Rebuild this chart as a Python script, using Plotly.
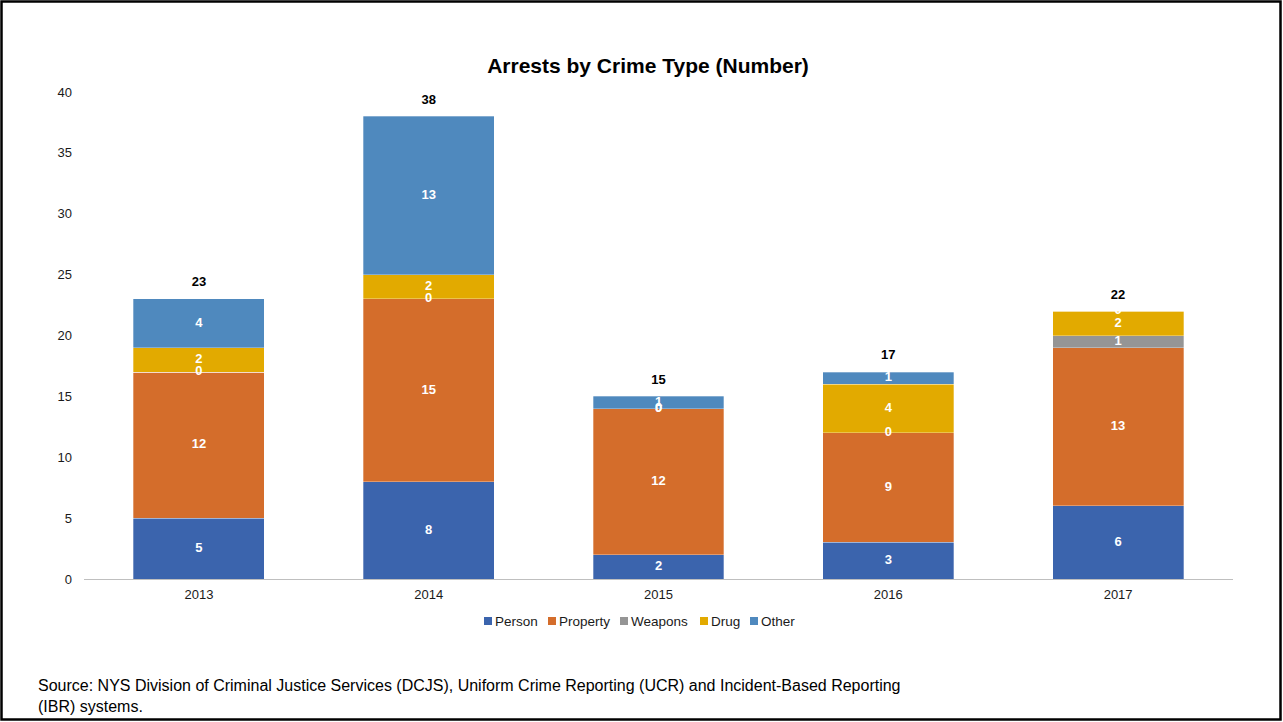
import plotly.graph_objects as go

years = ["2013", "2014", "2015", "2016", "2017"]
series_names = ["Person", "Property", "Weapons", "Drug", "Other"]
person = [5, 8, 2, 3, 6]
prop = [12, 15, 12, 9, 13]
weapons = [0, 0, 0, 0, 1]
drug = [2, 2, 0, 4, 2]
other = [4, 13, 1, 1, 0]
colors = ["#3B64AD", "#D46D2B", "#959595", "#E2AA00", "#4F89BE"]

series = [person, prop, weapons, drug, other]

W, H = 1283, 722
L, R, T, B = 84, 50, 92, 143
pw, ph = W - L - R, H - T - B
FONT = "Liberation Sans, Arial"

def px_x(x):
    return (x - L) / pw

def px_y(y):
    return (H - B - y) / ph

fig = go.Figure()
for name, vals, col in zip(series_names, series, colors):
    fig.add_trace(go.Bar(
        x=years, y=vals, name=name, showlegend=False,
        marker=dict(color=col, line=dict(color="rgba(255,255,255,0.5)", width=0.6)),
        hoverinfo="skip"))

# segment labels (including zero segments)
base = [0] * len(years)
lx, ly, lt = [], [], []
for vals in series:
    for i, v in enumerate(vals):
        lx.append(years[i])
        ly.append(base[i] + v / 2)
        lt.append(f"<b>{v}</b>")
        base[i] += v
fig.add_trace(go.Scatter(x=lx, y=ly, text=lt, mode="text", textposition="middle center",
                         textfont=dict(color="white", size=13, family=FONT),
                         showlegend=False, hoverinfo="skip"))
totals = base
fig.add_trace(go.Scatter(x=years, y=[t + 1.3 for t in totals], text=[f"<b>{t}</b>" for t in totals],
                         mode="text", textposition="middle center",
                         textfont=dict(color="black", size=13, family=FONT),
                         showlegend=False, hoverinfo="skip"))

fig.update_layout(
    width=W, height=H, barmode="stack", bargap=0.43,
    margin=dict(l=L, r=R, t=T, b=B),
    paper_bgcolor="white", plot_bgcolor="white",
    font=dict(family=FONT, size=13, color="#1a1a1a"),
    showlegend=False,
    title=dict(text="<b>Arrests by Crime Type (Number)</b>", x=px_x(648), xref="paper",
               xanchor="center", y=1 - 66 / H, yanchor="middle",
               font=dict(size=21, color="black")),
    xaxis=dict(showgrid=False, showline=True, linecolor="#BFBFBF", linewidth=1, ticks="",
               tickfont=dict(size=13), ticklabelstandoff=3),
    yaxis=dict(range=[0, 40], dtick=5, showgrid=False, showline=False, zeroline=False, ticks="",
               tickfont=dict(size=13), ticklabelstandoff=11),
)

# custom compact legend
legend_x = [484, 548, 620, 700, 750]
for name, col, lxp in zip(series_names, colors, legend_x):
    fig.add_shape(type="rect", xref="paper", yref="paper",
                  x0=px_x(lxp), x1=px_x(lxp + 8), y0=px_y(625), y1=px_y(617),
                  fillcolor=col, line=dict(width=0))
    fig.add_annotation(xref="paper", yref="paper", x=px_x(lxp + 9), y=px_y(621),
                       xanchor="left", yanchor="middle", showarrow=False, text=name,
                       font=dict(size=13.5, color="#1a1a1a"))

fig.add_annotation(xref="paper", yref="paper", x=px_x(36), y=px_y(675),
                   xanchor="left", yanchor="top", align="left", showarrow=False,
                   text="Source: NYS Division of Criminal Justice Services (DCJS), Uniform Crime Reporting (UCR) and Incident-Based Reporting<br>(IBR) systems.",
                   font=dict(size=16, color="black"))

fig.add_shape(type="rect", xref="paper", yref="paper",
              x0=px_x(1.5), x1=px_x(W - 2.5),
              y0=px_y(H - 2.5), y1=px_y(1.5),
              line=dict(color="black", width=2.5), fillcolor="rgba(0,0,0,0)")

fig.write_html("out.html", config={"displayModeBar": False},
               post_script="document.body.style.margin='0';document.body.style.overflow='hidden';")
